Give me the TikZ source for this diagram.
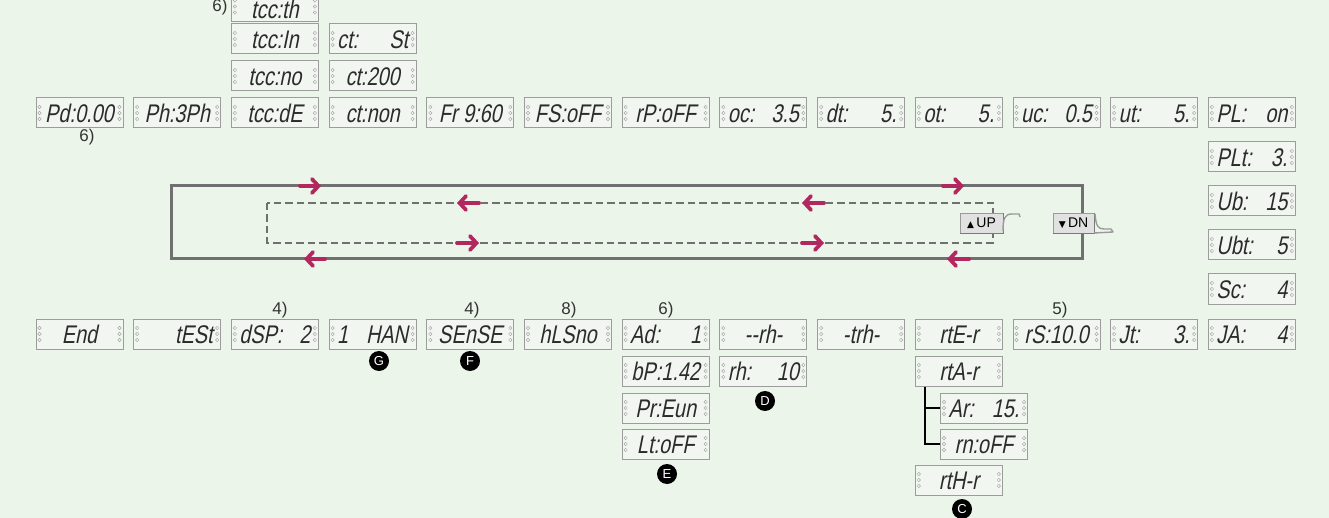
\documentclass[tikz,border=0pt]{standalone}
\usepackage{fontspec}
\setmainfont{Liberation Sans}
\newfontfamily\lcdfont[FakeSlant=0.2,FakeStretch=0.78]{Liberation Sans}
\newfontfamily\symfont{DejaVu Sans}
\usetikzlibrary{arrows.meta}
\definecolor{bgc}{HTML}{EBF5EA}
\definecolor{lcdfill}{HTML}{F1F7F0}
\definecolor{lcdborder}{HTML}{9C9C9C}
\definecolor{lcdtext}{HTML}{2B2B2B}
\definecolor{dotc}{HTML}{A8A8A8}
\definecolor{loopc}{HTML}{707070}
\definecolor{arrowc}{HTML}{B2285E}
\definecolor{btnfill}{HTML}{E1E1E1}
\definecolor{btnline}{HTML}{9A9A9A}
\definecolor{btnshadow}{HTML}{7A7A7A}
\definecolor{lblc}{HTML}{333333}
\newcommand\lr[2]{\hbox to 71pt{#1\hfill #2}}
\newcommand\lf[1]{\hbox to 71pt{\hss #1\hss}}
\tikzset{
  lcd/.style={draw=lcdborder, line width=1pt, fill=lcdfill,
    minimum width=87pt, minimum height=30pt, inner sep=0pt,
    text height=18.4pt, text depth=0pt,
    font=\lcdfont\fontsize{25.5}{25.5}\selectfont, text=lcdtext,
    path picture={\foreach \dy in {-6,0,6}{
      \draw[dotc,line width=0.45pt] ([xshift=3.5pt,yshift=\dy pt]path picture bounding box.west) circle (1.7pt);
      \draw[dotc,line width=0.45pt] ([xshift=-3.5pt,yshift=\dy pt]path picture bounding box.east) circle (1.7pt);}}},
  lbl/.style={inner sep=0pt, font=\fontsize{17}{17}\selectfont, text=lblc},
  marker/.style={circle, fill=black, minimum size=20pt, inner sep=0pt,
    font=\fontsize{13}{13}\selectfont, text=white},
  outerloop/.style={draw=loopc, line width=3pt},
  innerloop/.style={draw=loopc, line width=2.6pt, dash pattern=on 7.5pt off 4pt},
  flowarrow/.style={draw=arrowc, line width=3.8pt, line cap=round,
    -{Straight Barb[length=6.5pt,width=14pt,line cap=round]}},
  btn/.style={draw=btnline, line width=0.8pt, fill=btnfill, minimum height=20pt,
    inner sep=0pt, font=\fontsize{14}{14}\selectfont},
  btnedge/.style={draw=btnshadow, line width=1.3pt},
  tabline/.style={draw=btnline, line width=1.4pt, line join=round},
  tree/.style={draw=black, line width=2.8pt},
}
\begin{document}
\begin{tikzpicture}[x=1pt,y=-1pt]
\fill[bgc] (0,0) rectangle (1329,518);
\useasboundingbox (0,0) rectangle (1329,518);

% loop
\coordinate (o1) at (171,186);
\coordinate (o2) at (1082,259);
\coordinate (i1) at (267,203);
\coordinate (i2) at (993,243);
\draw[outerloop] (o1) rectangle (o2);
\draw[innerloop] (i1) rectangle (i2);
\coordinate (a1s) at (300,186); \coordinate (a1e) at (321,186);
\coordinate (a2s) at (943,186); \coordinate (a2e) at (964,186);
\coordinate (a3s) at (325,259); \coordinate (a3e) at (304,259);
\coordinate (a4s) at (969,259); \coordinate (a4e) at (947,259);
\coordinate (a5s) at (479,203); \coordinate (a5e) at (457,203);
\coordinate (a6s) at (824,203); \coordinate (a6e) at (802,203);
\coordinate (a7s) at (457,243); \coordinate (a7e) at (479,243);
\coordinate (a8s) at (802,243); \coordinate (a8e) at (824,243);
\foreach \k in {1,...,8}{\draw[flowarrow] (a\k s) -- (a\k e);}

% buttons
\node[btn, minimum width=43pt] (up) at (981.5,223) {{\symfont\fontsize{9}{9}\selectfont ▲}\,UP};
\draw[btnedge] (up.south west) -- (up.south east) -- (up.north east);
\draw[tabline] (1003,231) .. controls (1003,218) and (1005,214) .. (1012,214) -- (1019,214) -- (1020,217);
\node[btn, minimum width=41pt] (dn) at (1073.5,223) {{\symfont\fontsize{9}{9}\selectfont ▼}\,DN};
\draw[btnedge] (dn.south west) -- (dn.south east) -- (dn.north east);
\draw[tabline] (1095,214) .. controls (1096,226) and (1098,229) .. (1104,229) -- (1111,229) -- (1113,232) -- (1094,233);

% top stacks
\node[lcd] (tccth) at (274.9,6.5) {\raisebox{-3pt}{\lf{tcc:th}}};
\node[lcd] (tccin) at (274.9,39) {\lf{tcc:In}};
\node[lcd] (tccno) at (274.9,76) {\lf{tcc:no}};
\node[lcd] (ctst) at (372.6,39) {\lr{ct:}{St}};
\node[lcd] (ct200) at (372.6,76) {\lf{ct:200}};

% top row
\node[lcd] (pd) at (79.5,113) {\lf{Pd:0.00}};
\node[lcd] (ph) at (177.2,113) {\lf{Ph:3Ph}};
\node[lcd] (tccde) at (274.9,113) {\lf{tcc:dE}};
\node[lcd] (ctnon) at (372.6,113) {\lf{ct:non}};
\node[lcd] (fr) at (470.3,113) {\lf{Fr 9:60}};
\node[lcd] (fs) at (568,113) {\lf{FS:oFF}};
\node[lcd] (rp) at (665.7,113) {\lf{rP:oFF}};
\node[lcd] (oc) at (763.4,113) {\lr{oc:}{3.5}};
\node[lcd] (dt) at (861.1,113) {\lr{dt:}{5.}};
\node[lcd] (ot) at (958.8,113) {\lr{ot:}{5.}};
\node[lcd] (uc) at (1056.5,113) {\lr{uc:}{0.5}};
\node[lcd] (ut) at (1154.2,113) {\lr{ut:}{5.}};
\node[lcd] (pl) at (1251.9,113) {\lr{PL:}{on}};

% right column
\node[lcd] (plt) at (1251.9,157) {\lr{PLt:}{3.}};
\node[lcd] (ub) at (1251.9,201) {\lr{Ub:}{15}};
\node[lcd] (ubt) at (1251.9,245) {\lr{Ubt:}{5}};
\node[lcd] (sc) at (1251.9,289) {\lr{Sc:}{4}};

% bottom row
\node[lcd] (end) at (79.5,334) {\lf{End}};
\node[lcd] (test) at (177.2,334) {\lr{}{tESt}};
\node[lcd] (dsp) at (274.9,334) {\lr{dSP:}{2}};
\node[lcd] (han) at (372.6,334) {\lr{1}{HAN}};
\node[lcd] (sense) at (470.3,334) {\lf{SEnSE}};
\node[lcd] (hls) at (568,334) {\lf{hLSno}};
\node[lcd] (ad) at (665.7,334) {\lr{Ad:}{1}};
\node[lcd] (rh) at (763.4,334) {\lf{-{}-rh-}};
\node[lcd] (trh) at (861.1,334) {\lf{-trh-}};
\node[lcd] (rte) at (958.8,334) {\lf{rtE-r}};
\node[lcd] (rs) at (1056.5,334) {\lf{rS:10.0}};
\node[lcd] (jt) at (1154.2,334) {\lr{Jt:}{3.}};
\node[lcd] (ja) at (1251.9,334) {\lr{JA:}{4}};

% lower stacks
\node[lcd] (bp) at (665.7,371) {\lf{bP:1.42}};
\node[lcd] (pr) at (665.7,408) {\lf{Pr:Eun}};
\node[lcd] (lt) at (665.7,444) {\lf{Lt:oFF}};
\node[lcd] (rh10) at (763.4,371) {\lr{rh:}{10}};
\node[lcd] (rta) at (958.8,371) {\lf{rtA-r}};
\node[lcd] (ar) at (984,408) {\lr{Ar:}{15.}};
\node[lcd] (rn) at (984,444) {\lf{rn:oFF}};
\node[lcd] (rth) at (958.8,480) {\lf{rtH-r}};

% tree
\coordinate (tx) at (925,0);
\draw[tree] (rta.south -| tx) |- (rn.west);
\draw[tree] (tx |- ar.west) -- (ar.west);

% labels
\node[lbl] (n6a) at (220,7.5) {6)};
\node[lbl] (n6b) at (87,137) {6)};
\node[lbl] (n4a) at (280,310) {4)};
\node[lbl] (n4b) at (472,310) {4)};
\node[lbl] (n8) at (569,310) {8)};
\node[lbl] (n6c) at (666,310) {6)};
\node[lbl] (n5) at (1060,310) {5)};

% markers
\node[marker] (mg) at (379,361) {G};
\node[marker] (mf) at (470,361) {F};
\node[marker] (md) at (765,401) {D};
\node[marker] (me) at (667,474) {E};
\node[marker] (mc) at (962,509) {C};
\end{tikzpicture}
\end{document}
